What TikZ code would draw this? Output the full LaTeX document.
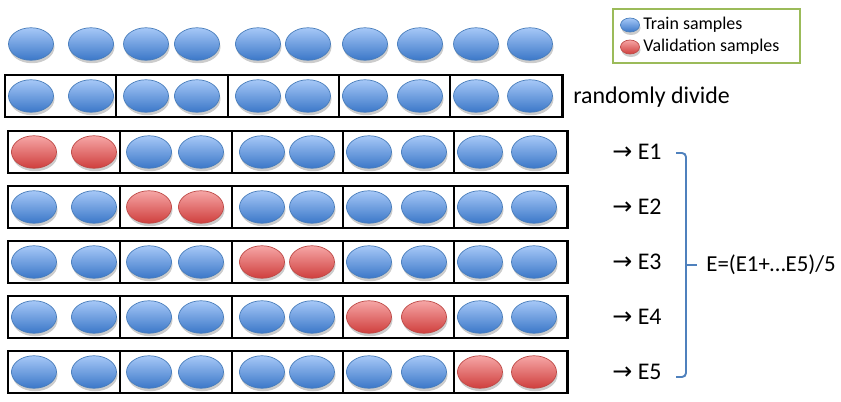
\documentclass[tikz,border=0pt]{standalone}
\usepackage{fontspec}
\setmainfont{Carlito}
\newfontfamily\arrowfont{DejaVu Sans}
\usetikzlibrary{shapes.geometric, shadows}

\definecolor{trainTop}{HTML}{A6C8F7}
\definecolor{trainBot}{HTML}{3B77C8}
\definecolor{trainLine}{HTML}{4A7EBB}
\definecolor{validTop}{HTML}{F6A6A6}
\definecolor{validBot}{HTML}{CF3F3D}
\definecolor{validLine}{HTML}{BE4B48}
\definecolor{braceBlue}{HTML}{4F81BD}
\definecolor{keyGreen}{HTML}{9BBB59}

\begin{document}
\begin{tikzpicture}[x=0.2mm, y=-0.2mm,
  sample/.style={ellipse, draw, line width=0.4pt, minimum width=9mm, minimum height=6.5mm, inner sep=0pt,
    drop shadow={shadow xshift=0.2mm, shadow yshift=-0.6mm, opacity=0.2, fill=black}},
  train/.style={sample, draw=trainLine, top color=trainTop, bottom color=trainBot},
  valid/.style={sample, draw=validLine, top color=validTop, bottom color=validBot},
  fold/.style={draw=black, line width=1.7pt},
  label/.style={inner sep=0pt, anchor=west, font=\fontsize{13.6}{16}\selectfont},
  keytext/.style={inner sep=0pt, anchor=west, font=\fontsize{10.2}{12}\selectfont}]

\useasboundingbox (0,0) rectangle (841,402);

% Legend
\draw[draw=keyGreen, line width=1.1pt] (613,9) rectangle (800,63);
\node[train, minimum width=3.8mm, minimum height=2.8mm] (keytrain) at (630,25) {};
\node[valid, minimum width=3.8mm, minimum height=2.8mm] (keyvalid) at (630,47) {};
\node[keytext] (keytraintext) at (643,25) {Train samples};
\node[keytext] (keyvalidtext) at (643,47) {Validation samples};

% All samples
\foreach \x [count=\i] in {31,91,146,197,258,308,365,420,476,530}
  \node[train] (all\i) at (\x,44) {};

% Randomly divided into 5 folds
\foreach \a/\b in {5/116,116/228,228/339,339/450,450/562}
  \draw[fold] (\a,75) rectangle (\b,117);
\foreach \x [count=\i] in {31,91,146,197,258,308,365,420,476,530}
  \node[train] (div\i) at (\x,96) {};
\node[label] (divide) at (573,97) {randomly divide};

% Five rounds, one fold held out each time
\foreach \k/\y in {1/152,2/207,3/262,4/317,5/372} {
  \foreach \a/\b in {8/120,120/232,232/343,343/454,454/567}
    \draw[fold] (\a,\y-21) rectangle (\b,\y+21);
  \foreach \x [count=\i] in {34,94,149,201,262,312,369,424,480,534} {
    \pgfmathtruncatemacro{\f}{(\i+1)/2}
    \ifnum\f=\k\def\kind{valid}\else\def\kind{train}\fi
    \node[\kind] (r\k-\i) at (\x,\y) {};
  }
  \node[label] (err\k) at (612,\y) {{\arrowfont →} E\k};
}

% Average of the five errors
\draw[braceBlue, line width=1.1pt, rounded corners=0.8mm] (676,153) -- (686,153) -- (686,377) -- (676,377);
\draw[braceBlue, line width=1.1pt] (686,265) -- (697,265);
\node[label, font=\fontsize{13}{15}\selectfont] (mean) at (706,265) {E=(E1+…E5)/5};

\end{tikzpicture}
\end{document}
